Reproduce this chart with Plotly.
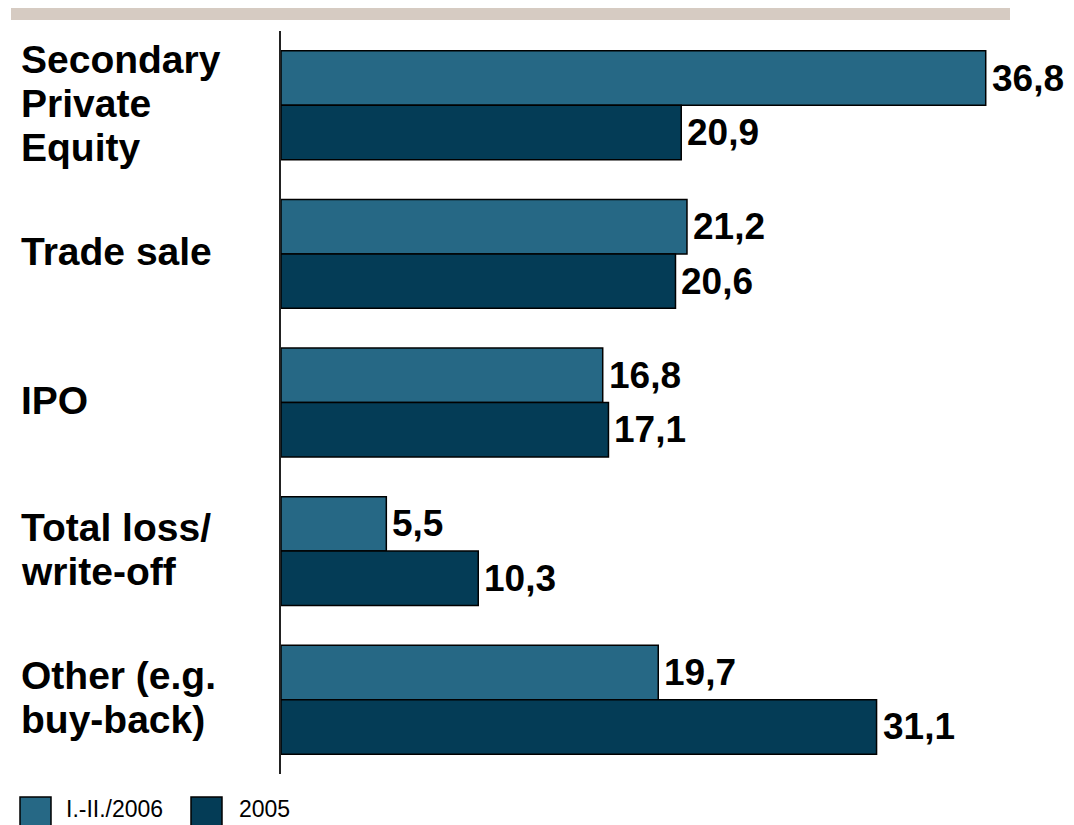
import plotly.graph_objects as go

categories = ["Secondary Private Equity", "Trade sale", "IPO", "Total loss/ write-off", "Other (e.g. buy-back)"]
category_lines = [["Secondary", "Private", "Equity"], ["Trade sale"], ["IPO"], ["Total loss/", "write-off"], ["Other (e.g.", "buy-back)"]]
series_names = ["I.-II./2006", "2005"]
values_2006 = [36.8, 21.2, 16.8, 5.5, 19.7]
values_2005 = [20.9, 20.6, 17.1, 10.3, 31.1]
value_labels_2006 = ["36,8", "21,2", "16,8", "5,5", "19,7"]
value_labels_2005 = ["20,9", "20,6", "17,1", "10,3", "31,1"]

c_light = "#266885"
c_dark = "#043C56"

OFF = 8  # page body margin
W, H = 1074 - OFF, 825 - OFF
ml, mr, mt, mb = 281 - OFF, 27, 31 - OFF, 51
pw = W - ml - mr
ph = H - mt - mb

fig = go.Figure()
fig.add_trace(go.Bar(y=categories, x=values_2006, orientation="h", name=series_names[0],
                     marker=dict(color=c_light, line=dict(color="black", width=1.5)), showlegend=False))
fig.add_trace(go.Bar(y=categories, x=values_2005, orientation="h", name=series_names[1],
                     marker=dict(color=c_dark, line=dict(color="black", width=1.5)), showlegend=False))


def px2x(px):
    return (px - OFF - ml) / pw


def py2y(py):
    return (H - mb - (py - OFF)) / ph


annotations = []
bar_off = ph / len(categories) * (1 - 0.267) / 4
for i, cat in enumerate(categories):
    for val, lab, sh in ((values_2006[i], value_labels_2006[i], bar_off), (values_2005[i], value_labels_2005[i], -bar_off)):
        annotations.append(dict(x=val, y=cat, xref="x", yref="y", text="<b>%s</b>" % lab,
                                xanchor="left", yanchor="middle", xshift=4, yshift=sh,
                                showarrow=False, font=dict(family="Arial, Liberation Sans", size=37, color="black")))
    lines = category_lines[i]
    n = len(lines)
    for j, ln in enumerate(lines):
        annotations.append(dict(x=px2x(19), y=cat, xref="paper", yref="y", text="<b>%s</b>" % ln,
                                xanchor="left", yanchor="middle", yshift=2 + ((n - 1) / 2 - j) * 44,
                                showarrow=False, font=dict(family="Arial, Liberation Sans", size=39, color="black")))

shapes = [
    dict(type="rect", xref="paper", yref="paper", x0=px2x(11), x1=px2x(1010), y0=py2y(20), y1=py2y(8),
         fillcolor="#D6CBC2", line=dict(width=0), layer="below"),
    dict(type="rect", xref="paper", yref="paper", x0=px2x(20), x1=px2x(51), y0=py2y(830), y1=py2y(797),
         fillcolor=c_light, line=dict(color="black", width=1.5)),
    dict(type="rect", xref="paper", yref="paper", x0=px2x(191), x1=px2x(222), y0=py2y(830), y1=py2y(797),
         fillcolor=c_dark, line=dict(color="black", width=1.5)),
]
for name, px in zip(series_names, (64, 237)):
    annotations.append(dict(x=px2x(px), y=py2y(809), xref="paper", yref="paper", text=name,
                            xanchor="left", yanchor="middle", showarrow=False,
                            font=dict(family="Liberation Sans Narrow, Arial Narrow, Arial", size=23, color="black")))

fig.update_layout(
    width=W, height=H,
    margin=dict(l=ml, r=mr, t=mt, b=mb, pad=0),
    paper_bgcolor="white", plot_bgcolor="white",
    barmode="group", bargap=0.267, bargroupgap=0,
    xaxis=dict(range=[0, 40], visible=False, showgrid=False, zeroline=False),
    yaxis=dict(autorange="reversed", showticklabels=False, ticks="", showgrid=False, zeroline=False,
               showline=True, linecolor="#222222", linewidth=2),
    annotations=annotations, shapes=shapes,
)
fig.write_html("out.html")
